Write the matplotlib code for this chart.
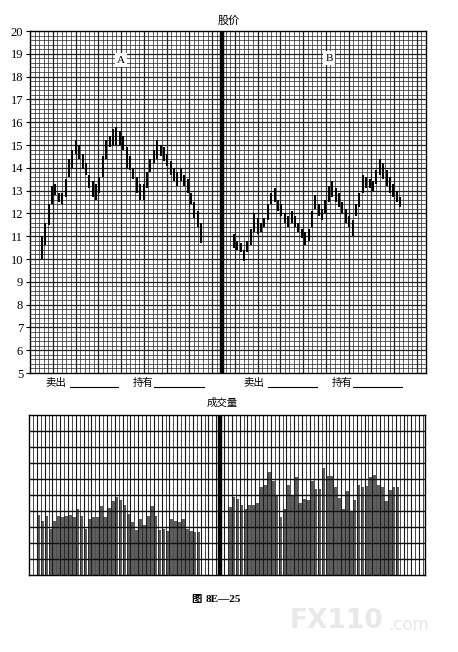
"""Price / volume worksheet chart (图 8E-25): two panels A and B side by side."""
import matplotlib

matplotlib.use("Agg")
import matplotlib.pyplot as plt
from matplotlib.lines import Line2D

plt.rcParams["font.family"] = ["Noto Sans CJK SC", "DejaVu Sans"]

W, H = 458, 652

PRICE_TICKS = list(range(5, 21))

# panel A daily high / low
A_HIGH = [11.0, 11.6, 12.4, 13.2, 13.3, 12.9, 12.9, 13.5, 14.4, 14.8, 15.2, 15.0,
          14.6, 14.2, 13.7, 13.4, 13.3, 13.6, 14.5, 15.2, 15.4, 15.7, 15.8, 15.6,
          15.4, 14.9, 14.5, 14.0, 13.6, 13.3, 13.3, 13.8, 14.4, 14.8, 15.2, 15.0,
          14.9, 14.6, 14.3, 14.0, 13.8, 14.0, 13.7, 13.5, 12.9, 12.5, 12.1, 11.6]
A_LOW = [10.0, 10.6, 11.5, 12.4, 12.8, 12.5, 12.4, 12.7, 13.6, 14.0, 14.6, 14.4,
         14.0, 13.7, 13.1, 12.7, 12.6, 12.9, 13.6, 14.4, 14.9, 15.0, 15.0, 15.0,
         14.8, 14.0, 13.9, 13.5, 12.9, 12.6, 12.6, 13.1, 13.8, 14.2, 14.4, 14.5,
         14.3, 14.1, 13.7, 13.4, 13.2, 13.4, 13.2, 12.9, 12.4, 11.8, 11.4, 10.7]

# panel B daily high / low
B_HIGH = [11.1, 10.8, 10.7, 10.4, 10.8, 11.3, 12.0, 11.8, 11.6, 11.8, 12.4, 12.9,
          13.1, 12.6, 12.4, 12.0, 11.9, 12.1, 11.9, 11.6, 11.3, 11.2, 11.3, 12.1,
          12.8, 12.4, 12.2, 12.6, 13.2, 13.4, 13.1, 12.9, 12.5, 12.2, 11.9, 11.7,
          12.4, 12.9, 13.7, 13.6, 13.5, 13.4, 13.9, 14.4, 14.2, 13.9, 13.6, 13.3,
          13.0, 12.7]
B_LOW = [10.5, 10.4, 10.3, 9.9, 10.3, 10.6, 11.2, 11.1, 11.2, 11.4, 11.7, 12.4,
         12.5, 12.1, 11.9, 11.6, 11.4, 11.6, 11.4, 11.2, 10.9, 10.6, 10.8, 11.4,
         12.2, 11.9, 11.7, 12.0, 12.5, 12.7, 12.5, 12.3, 12.0, 11.6, 11.4, 11.0,
         11.9, 12.3, 12.9, 13.1, 13.1, 13.0, 13.3, 13.7, 13.5, 13.2, 12.9, 12.7,
         12.5, 12.3]

# volume, in grid divisions (0-10)
VOL_A = [3.75, 3.4, 3.7, 2.9, 3.4, 3.7, 3.6, 3.7, 3.75, 3.6, 4.1, 3.7, 2.9, 3.5,
         3.6, 3.6, 4.3, 3.65, 4.2, 4.65, 4.9, 4.7, 4.4, 3.8, 3.3, 2.8, 3.5, 3.1,
         3.7, 4.3, 3.7, 2.8, 2.9, 2.75, 3.5, 3.4, 3.3, 3.5, 2.9, 2.75, 2.7, 2.7]
VOL_B = [4.27, 4.9, 4.75, 4.4, 4.1, 4.4, 4.4, 4.5, 5.5, 5.65, 6.45, 5.9, 5.0, 3.6,
         4.1, 5.6, 5.0, 6.15, 4.5, 4.75, 4.7, 5.9, 5.4, 5.4, 6.7, 6.2, 6.2, 5.5,
         4.8, 4.1, 5.25, 4.0, 4.7, 5.6, 5.5, 5.55, 6.15, 6.25, 5.6, 5.5, 4.6, 5.3,
         5.5, 5.5]

# layout (grid columns)
PRICE_COLS = 87
PRICE_SPLIT = 42.2
A_START, B_START, DAY_STEP = 2.6, 44.8, 0.745
VOL_COLS = 101.5
VOL_SPLIT = 49
VA_START, VB_START = 2.5, 51.5


def fx(px):
    return px / W


def fy(py):
    return 1 - py / H


fig = plt.figure(figsize=(W / 100, H / 100), dpi=100)

# ---- price chart ----
ax = fig.add_axes([fx(30), fy(373), fx(396), 342 / H])
ax.set_xlim(0, PRICE_COLS)
ax.set_ylim(5, 20)
for c in range(1, PRICE_COLS):
    ax.axvline(c, color="#222222", lw=0.9 if c % 5 == 0 else 0.5, zorder=0)
for k in range(1, 75):
    v = 5 + k * 0.2
    ax.axhline(v, color="#222222", lw=0.9 if k % 5 == 0 else 0.5, zorder=0)
ax.axvline(PRICE_SPLIT, color="black", lw=3.2, zorder=3)

xa = [A_START + i * DAY_STEP for i in range(len(A_HIGH))]
xb = [B_START + i * DAY_STEP for i in range(len(B_HIGH))]
ax.vlines(xa, A_LOW, A_HIGH, color="black", lw=1.5, zorder=2)
ax.vlines(xb, B_LOW, B_HIGH, color="black", lw=1.5, zorder=2)

ax.set_xticks([])
ax.set_yticks(PRICE_TICKS)
ax.set_yticklabels([str(t) for t in PRICE_TICKS], family="Liberation Serif", fontsize=9)
ax.tick_params(axis="y", length=3, width=0.8, direction="out", pad=2)
for s in ax.spines.values():
    s.set_linewidth(1.0)

box = dict(facecolor="white", edgecolor="none", pad=1.5)
ax.text(0.23, 0.915, "A", transform=ax.transAxes, ha="center", va="center",
        family="Liberation Serif", fontsize=8, bbox=box, zorder=5)
ax.text(0.755, 0.921, "B", transform=ax.transAxes, ha="center", va="center",
        family="Liberation Serif", fontsize=8, bbox=box, zorder=5)

fig.text(fx(229), fy(21), "股价", ha="center", va="center", fontsize=8)

# sell / hold blanks
for label, x0, x1, x2 in [("卖出", 45, 70, 118), ("持有", 133, 154, 204),
                          ("卖出", 243, 268, 317), ("持有", 332, 353, 402)]:
    fig.text(fx(x0), fy(383), label, ha="left", va="center", fontsize=7.5)
    fig.add_artist(Line2D([fx(x1), fx(x2)], [fy(387), fy(387)], color="black", lw=0.8))

fig.text(fx(222), fy(403), "成交量", ha="center", va="center", fontsize=7.5)

# ---- volume chart ----
av = fig.add_axes([fx(29), fy(575), fx(396), 160 / H])
av.set_xlim(0, VOL_COLS)
av.set_ylim(0, 10)
av.bar([VA_START + i for i in range(len(VOL_A))], VOL_A, width=0.85,
       color="#5e5e5e", zorder=1)
av.bar([VB_START + i for i in range(len(VOL_B))], VOL_B, width=0.85,
       color="#5e5e5e", zorder=1)
for c in range(1, int(VOL_COLS) + 1):
    av.axvline(c, color="#1a1a1a", lw=0.8 if c % 2 == 0 else 0.55, zorder=2)
for k in range(1, 10):
    av.axhline(k, color="#111111", lw=1.0, zorder=2)
av.axvline(VOL_SPLIT, color="black", lw=3.2, zorder=3)
av.set_xticks([])
av.set_yticks([])
for s in av.spines.values():
    s.set_linewidth(1.0)

# caption
fig.text(fx(191), fy(599), "图", ha="left", va="center", fontsize=7.5, weight="bold")
fig.text(fx(206), fy(599), "8E—25", ha="left", va="center", fontsize=8,
         family=["Liberation Serif", "DejaVu Serif"], weight="bold")

# watermark
fig.text(fx(290), fy(621), "FX110", ha="left", va="center", fontsize=19,
         family="DejaVu Sans", weight="bold", color="#e8e8e8")
fig.text(fx(388), fy(625), ".com", ha="left", va="center", fontsize=12,
         family="DejaVu Sans", color="#e8e8e8")

fig.savefig("out.png", dpi=100)
